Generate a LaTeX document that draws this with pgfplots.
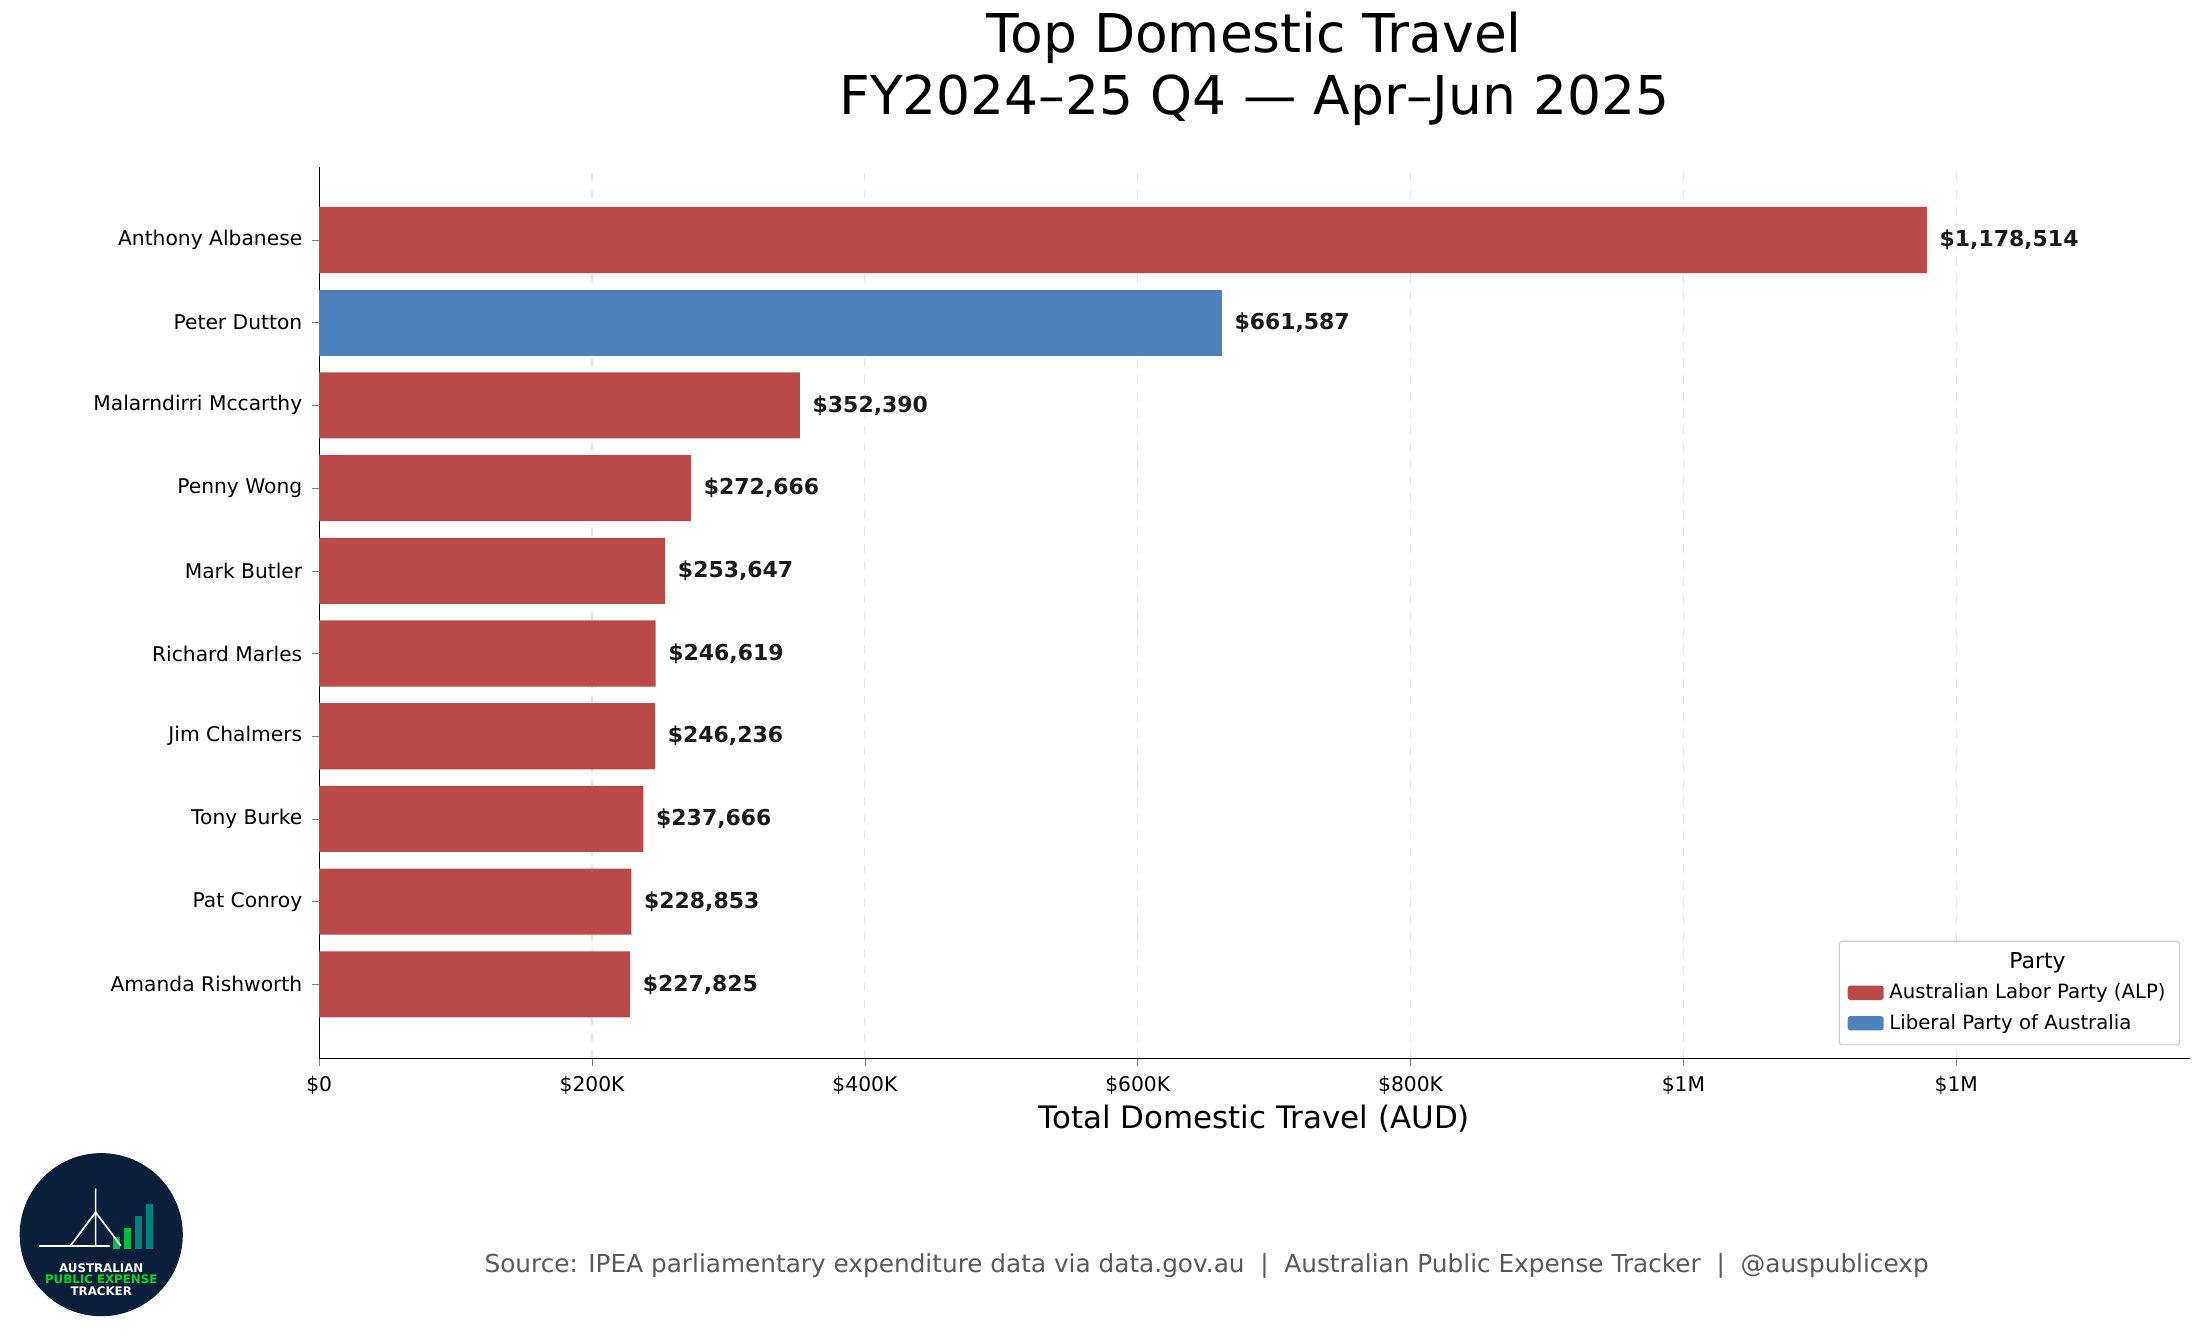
\documentclass[border=0pt]{standalone}
\usepackage{pgfplots}
\pgfplotsset{compat=1.18}
\usepackage{fontspec}
\setmainfont{DejaVu Sans}
\definecolor{alp}{HTML}{BA4A48}
\definecolor{lib}{HTML}{4F81BD}
\definecolor{navy}{HTML}{0B1F3A}
\begin{document}
\begin{tikzpicture}
\path[use as bounding box] (0,0) rectangle (784pt,475.5pt);
\begin{axis}[
  at={(113.5pt,125.5pt)}, anchor=origin, scale only axis,
  width=665pt, height=317pt,
  xmin=0, xmax=1371000, ymin=-0.9, ymax=9.88,
  xbar, bar width=23.5pt, bar shift=0pt,
  axis x line*=bottom, axis y line*=left, axis line style={-},
  xtick={0,200000,400000,600000,800000,1000000,1200000},
  xticklabels={\$0,\$200K,\$400K,\$600K,\$800K,\$1M,\$1M},
  scaled x ticks=false,
  ytick={0,...,9},
  yticklabels={Amanda Rishworth,Pat Conroy,Tony Burke,Jim Chalmers,Richard Marles,Mark Butler,Penny Wong,Malarndirri Mccarthy,Peter Dutton,Anthony Albanese},
  tick label style={font=\fontsize{7.2}{8}\selectfont},
  tick align=outside, major tick length=2.5pt,
  xmajorgrids, grid style={dashed, gray!20},
  xlabel={Total Domestic Travel (AUD)},
  xlabel style={font=\fontsize{11}{13}\selectfont, yshift=3pt},
  point meta=explicit symbolic,
  nodes near coords={\textbf{\pgfplotspointmeta}},
  nodes near coords style={font=\fontsize{7.8}{9}\selectfont, anchor=west, xshift=1pt, text=black!90},
  legend style={at={(0.995,0.015)}, anchor=south east, font=\fontsize{7}{9}\selectfont, draw=gray!40, rounded corners=1pt, cells={anchor=west}},
  legend image code/.code={\fill[#1] (0cm,-0.08cm) rectangle (0.45cm,0.1cm);},
]
\addlegendimage{empty legend}
\addlegendentry{\hspace{1.5cm}\fontsize{7.8}{9}\selectfont Party}
\addplot[fill=alp, draw=none] table[meta=m] {
x y m
1178514 9 \$1,178,514
352390 7 \$352,390
272666 6 \$272,666
253647 5 \$253,647
246619 4 \$246,619
246236 3 \$246,236
237666 2 \$237,666
228853 1 \$228,853
227825 0 \$227,825
};
\addlegendentry{Australian Labor Party (ALP)}
\addplot[fill=lib, draw=none] table[meta=m] {
x y m
661587 8 \$661,587
};
\addlegendentry{Liberal Party of Australia}
\end{axis}
\begin{scope}[x=0.5pt,y=-0.5pt,yshift=475.5pt]
\node[font=\fontsize{19}{22}\selectfont, align=center] at (892,49) {Top Domestic Travel\\FY2024–25 Q4 — Apr–Jun 2025};
\node[font=\fontsize{8.8}{10}\selectfont, text=black!65] at (858,900) {Source: IPEA parliamentary expenditure data via data.gov.au \ | \ Australian Public Expense Tracker \ | \ @auspublicexp};
\fill[navy] (72,878) circle (58);
\fill[green!50!teal] (80,888) rectangle (85,880);
\fill[green!50!teal] (88,888) rectangle (93,873);
\fill[teal] (96,888) rectangle (101,865);
\fill[teal] (104,888) rectangle (109,856);
\draw[white, line width=0.6pt] (28,886) -- (78,886) (68,886) -- (68,845) (50,886) -- (68,862) -- (86,886);
\node[font=\fontsize{4.2}{5}\selectfont\bfseries, align=center, text=white] at (72,910) {AUSTRALIAN\\[-1pt]\textcolor{green!70!teal}{PUBLIC EXPENSE}\\[-1pt]TRACKER};
\end{scope}
\end{tikzpicture}
\end{document}
